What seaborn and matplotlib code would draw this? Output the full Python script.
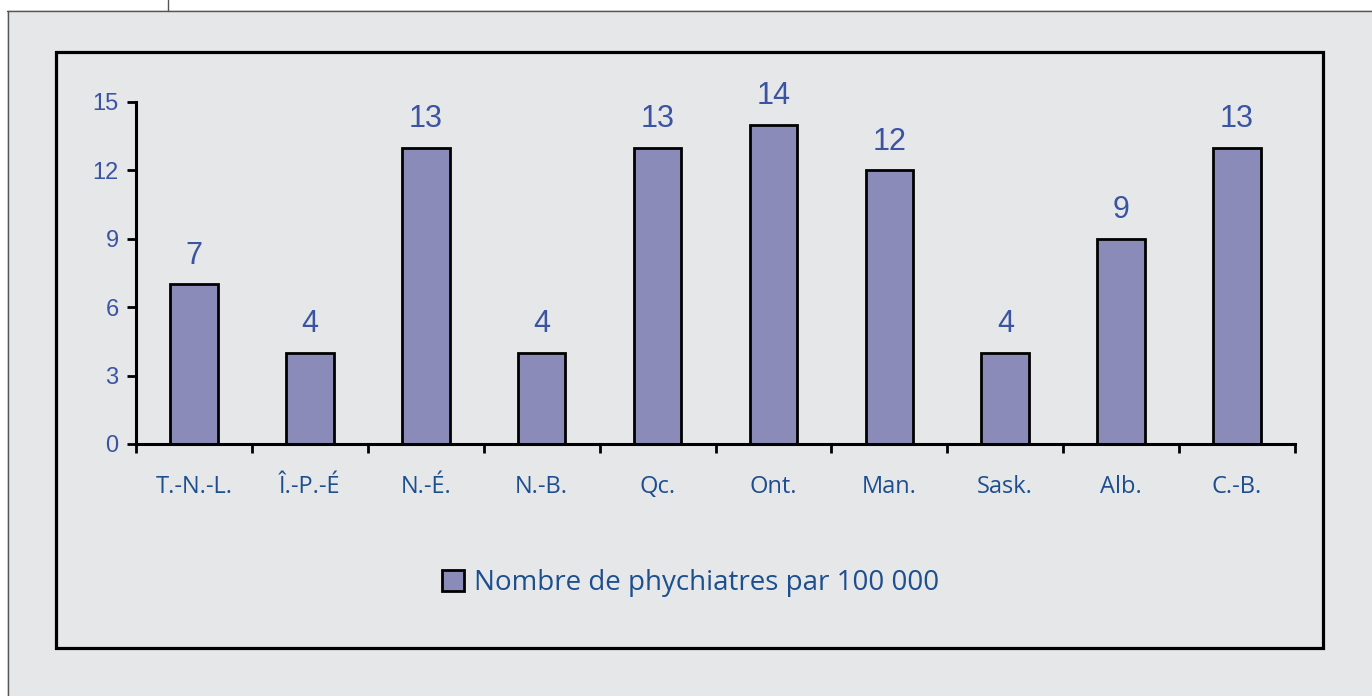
import numpy as np
import pandas as pd
import matplotlib
matplotlib.use('Agg')
import matplotlib.pyplot as plt
from matplotlib.patches import Rectangle, Patch
from matplotlib.lines import Line2D
import seaborn as sns

# data
provinces = ['T.-N.-L.', 'Î.-P.-É', 'N.-É.', 'N.-B.', 'Qc.', 'Ont.', 'Man.', 'Sask.', 'Alb.', 'C.-B.']
psychiatres = [7, 4, 13, 4, 13, 14, 12, 4, 9, 13]
yticks = [0, 3, 6, 9, 12, 15]
legend_label = 'Nombre de phychiatres par 100 000'

df = pd.DataFrame({'province': provinces, 'valeur': psychiatres})

bg = '#e6e7e8'
bar_col = '#8a8bb9'
num_blue = '#3a53a3'
txt_blue = '#1d4f8f'

sns.set_style('white')
plt.rcParams['font.family'] = ['Liberation Sans', 'DejaVu Sans']

fig = plt.figure(figsize=(13.72, 6.96), dpi=100)
fig.patch.set_facecolor(bg)
W, H = 1372, 696

def fx(px):
    return px / W

def fy(py):
    return 1 - py / H

# white strips at top and left + thin frame lines
fig.patches.append(Rectangle((0, fy(10)), 1, 1 - fy(10), transform=fig.transFigure,
                             facecolor='white', edgecolor='none', zorder=0))
fig.patches.append(Rectangle((0, 0), fx(7), 1, transform=fig.transFigure,
                             facecolor='white', edgecolor='none', zorder=0))
fig.lines.append(Line2D([fx(7), 1], [fy(10.5), fy(10.5)], transform=fig.transFigure, color='#555555', lw=1.0))
fig.lines.append(Line2D([fx(7.5), fx(7.5)], [0, fy(10.5)], transform=fig.transFigure, color='#555555', lw=1.0))
fig.lines.append(Line2D([fx(167.5), fx(167.5)], [fy(10.5), 1], transform=fig.transFigure, color='#555555', lw=1.0))

# inner black box
fig.patches.append(Rectangle((fx(56), fy(648)), fx(1323) - fx(56), fy(52) - fy(648),
                             transform=fig.transFigure, facecolor='none', edgecolor='black', lw=2.3, zorder=1))

ax = fig.add_axes([fx(136), fy(444), fx(1295) - fx(136), fy(102) - fy(444)])
ax.set_facecolor('none')

sns.barplot(data=df, x='province', y='valeur', color=bar_col, edgecolor='black',
            linewidth=2.0, width=0.41, saturation=1, ax=ax)

ax.set_xlim(-0.5, len(provinces) - 0.5)
ax.set_ylim(0, 15)
ax.set_xlabel('')
ax.set_ylabel('')

for s in ['top', 'right']:
    ax.spines[s].set_visible(False)
for s in ['left', 'bottom']:
    ax.spines[s].set_linewidth(2.2)
    ax.spines[s].set_color('black')

ax.set_yticks(yticks)
ax.tick_params(axis='y', direction='out', length=6.5, width=2, color='black',
               labelsize=17, labelcolor=num_blue, pad=6, left=True)

# boundary ticks (major) and centred labels (minor)
ax.set_xticks(np.arange(-0.5, len(provinces), 1.0))
ax.set_xticklabels([])
ax.set_xticks(np.arange(len(provinces)), minor=True)
ax.set_xticklabels(provinces, minor=True, fontfamily=['Open Sans', 'DejaVu Sans'])
ax.tick_params(axis='x', which='major', direction='out', length=6.5, width=2, color='black', bottom=True)
ax.tick_params(axis='x', which='minor', length=0, labelsize=17, labelcolor=txt_blue, pad=22)

ax.bar_label(ax.containers[0], labels=[str(v) for v in psychiatres], padding=10,
             fontsize=22, color=num_blue)

handle = Patch(facecolor=bar_col, edgecolor='black', linewidth=2.0)
leg = fig.legend([handle], [legend_label], loc='center left',
                 bbox_to_anchor=(fx(428), fy(583)), frameon=False,
                 prop={'family': ['Open Sans', 'DejaVu Sans'], 'size': 20},
                 handlelength=0.8, handleheight=0.8, handletextpad=0.35, borderpad=0)
for t in leg.get_texts():
    t.set_color(txt_blue)

fig.savefig('out.png', dpi=100, facecolor=bg)
